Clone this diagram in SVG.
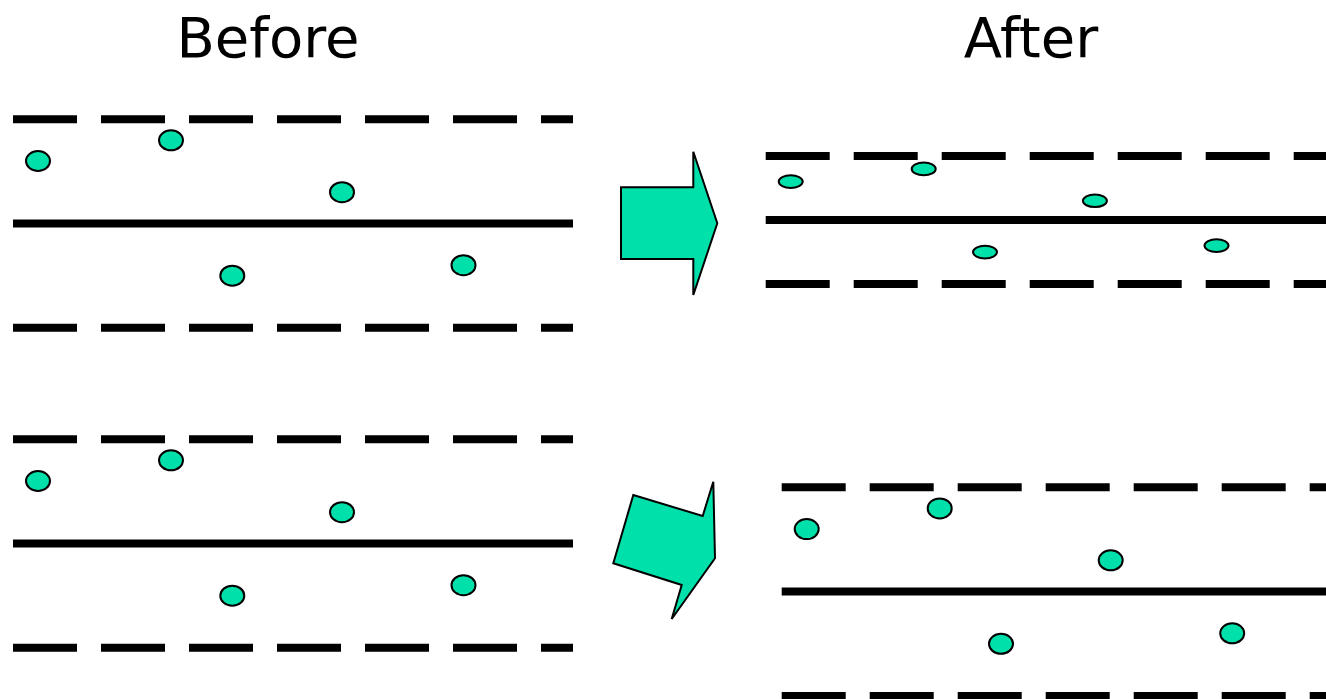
<svg xmlns="http://www.w3.org/2000/svg" width="1326" height="699" viewBox="0 0 1326 699">
  <style>
    .title { font-family: "DejaVu Sans", Tahoma, Verdana, sans-serif; font-size: 56px; fill: #000; text-anchor: middle; }
    .lane { stroke: #000; stroke-width: 8; fill: none; }
    .dash { stroke-dasharray: 64 24; }
    .dot { fill: #00E0AA; stroke: #000; stroke-width: 2; }
    .arrow { fill: #00E0AA; stroke: #000; stroke-width: 2; stroke-linejoin: miter; }
  </style>
  <defs>
    <!-- three-line road with five particles, drawn at its natural height -->
    <g id="road">
      <line class="lane dash" x1="13" y1="119.2" x2="573" y2="119.2"/>
      <line class="lane" x1="13" y1="223.5" x2="573" y2="223.5"/>
      <line class="lane dash" x1="13" y1="327.8" x2="573" y2="327.8"/>
      <ellipse class="dot" cx="38" cy="161" rx="12" ry="10"/>
      <ellipse class="dot" cx="171" cy="140.3" rx="12" ry="10"/>
      <ellipse class="dot" cx="342" cy="192.2" rx="12" ry="10"/>
      <ellipse class="dot" cx="232.3" cy="275.7" rx="12" ry="10"/>
      <ellipse class="dot" cx="463.5" cy="265.2" rx="12" ry="10"/>
    </g>
  </defs>

  <rect width="1326" height="699" fill="#fff"/>

  <text class="title" x="268" y="57">Before</text>
  <text class="title" x="1031" y="57">After</text>

  <g id="before-top">
    <use href="#road"/>
  </g>

  <g id="before-bottom">
    <use href="#road" transform="translate(0 320)"/>
  </g>

  <!-- squeezed road: same width, lanes pulled together -->
  <g id="after-top">
    <line class="lane dash" x1="765.7" y1="156" x2="1326" y2="156"/>
    <line class="lane" x1="765.7" y1="220" x2="1326" y2="220"/>
    <line class="lane dash" x1="765.7" y1="284" x2="1326" y2="284"/>
    <ellipse class="dot" cx="790.7" cy="181.6" rx="12" ry="6.3"/>
    <ellipse class="dot" cx="923.7" cy="168.9" rx="12" ry="6.3"/>
    <ellipse class="dot" cx="1094.9" cy="200.8" rx="12" ry="6.3"/>
    <ellipse class="dot" cx="985" cy="252.1" rx="12" ry="6.3"/>
    <ellipse class="dot" cx="1216.5" cy="245.6" rx="12" ry="6.3"/>
  </g>

  <g id="after-bottom">
    <use href="#road" transform="translate(768.7 368.1)"/>
  </g>

  <g id="connectors">
    <polygon class="arrow" points="621,187.3 693.3,187.3 693.3,151.7 717.3,223.3 693.3,295 693.3,259 621,259"/>
    <polygon class="arrow" points="633.3,495 702.7,516 713.3,481.7 715,558.3 671.7,619 681.7,585 613.3,563.3"/>
  </g>
</svg>
